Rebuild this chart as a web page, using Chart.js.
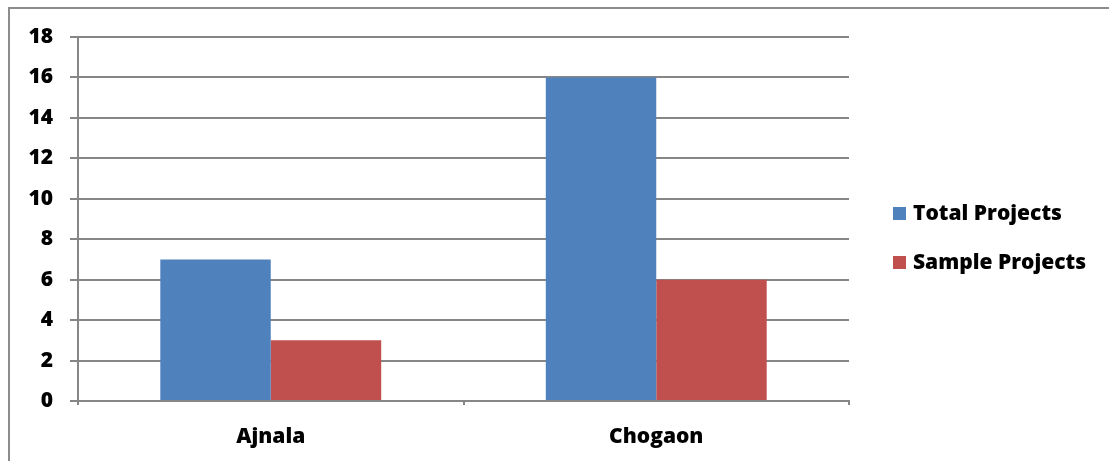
<!DOCTYPE html>
<html>
<head>
<meta charset="utf-8">
<script src="https://cdn.jsdelivr.net/npm/chart.js@4"></script>
<style>
  html, body { margin: 0; padding: 0; background: #fff; }
  #wrap { width: 1109px; height: 461px; position: relative; }
</style>
</head>
<body>
<div id="wrap"><canvas id="c" width="1109" height="461"></canvas></div>
<script>
const categories = ['Ajnala', 'Chogaon'];
const totalProjects = [7, 16];
const sampleProjects = [3, 6];
const seriesNames = ['Total Projects', 'Sample Projects'];
const seriesColors = ['#4F81BD', '#C0504D'];

const FONT = '"Open Sans", "DejaVu Sans", sans-serif';
const GRID = '#868686';

// Outer frame and the right-hand legend
const framePlugin = {
  id: 'frame',
  afterDraw(chart) {
    const ctx = chart.ctx;
    ctx.save();
    ctx.strokeStyle = '#8c8c8c';
    ctx.lineWidth = 2;
    ctx.strokeRect(9, 8, 1120, 470);

    ctx.font = '800 21px ' + FONT;
    ctx.textBaseline = 'middle';
    ctx.textAlign = 'left';
    const ys = [213, 262];
    chart.data.datasets.forEach((ds, i) => {
      ctx.fillStyle = ds.backgroundColor;
      ctx.fillRect(893, ys[i] - 6, 13, 13);
      ctx.fillStyle = '#000';
      ctx.fillText(ds.label, 913, ys[i] + 1);
    });
    ctx.restore();
  }
};

new Chart(document.getElementById('c'), {
  type: 'bar',
  data: {
    labels: categories,
    datasets: [
      { label: seriesNames[0], data: totalProjects, backgroundColor: seriesColors[0] },
      { label: seriesNames[1], data: sampleProjects, backgroundColor: seriesColors[1] }
    ]
  },
  options: {
    responsive: false,
    animation: false,
    devicePixelRatio: 1,
    layout: { padding: { left: 0, top: 37, right: 260, bottom: 0 } },
    plugins: { legend: { display: false }, tooltip: { enabled: false } },
    datasets: { bar: { categoryPercentage: 0.573, barPercentage: 1.0 } },
    scales: {
      x: {
        afterFit(s) { s.height = 60; },
        grid: { offset: true, drawOnChartArea: false, drawTicks: true, tickLength: 4, color: GRID, lineWidth: 2 },
        border: { color: GRID, width: 2 },
        ticks: { color: '#000', font: { family: FONT, size: 21, weight: 800 }, padding: 19 }
      },
      y: {
        min: 0, max: 18,
        afterFit(s) { s.width = 78; },
        grid: { color: GRID, lineWidth: 2, tickLength: 8 },
        border: { color: GRID, width: 2 },
        ticks: { stepSize: 2, color: '#000', font: { family: FONT, size: 21, weight: 800 }, padding: 17 }
      }
    }
  },
  plugins: [framePlugin]
});
</script>
</body>
</html>
